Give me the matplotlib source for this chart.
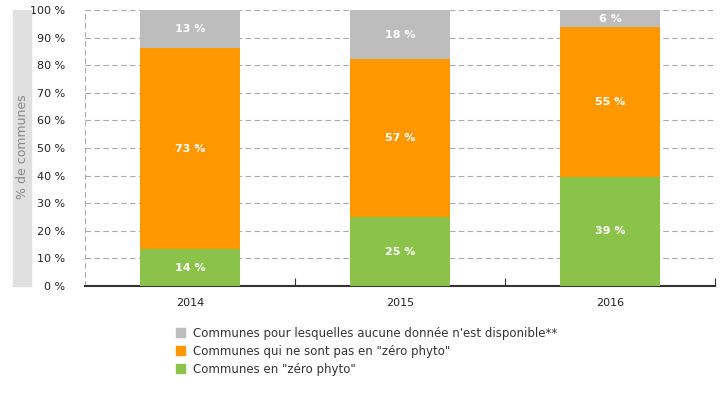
import matplotlib
matplotlib.use("Agg")
import matplotlib.pyplot as plt
from matplotlib.patches import Rectangle

years = ["2014", "2015", "2016"]
zero_phyto = [13.4, 25.0, 39.5]
non_zero = [72.8, 57.2, 54.3]
no_data = [13.8, 17.8, 6.2]
zero_lbl = ["14 %", "25 %", "39 %"]
non_lbl = ["73 %", "57 %", "55 %"]
nod_lbl = ["13 %", "18 %", "6 %"]
yticks = [0, 10, 20, 30, 40, 50, 60, 70, 80, 90, 100]
ytick_labels = [f"{v} %" for v in yticks]
leg_labels = ["Communes pour lesquelles aucune donnée n'est disponible**",
              "Communes qui ne sont pas en \"zéro phyto\"",
              "Communes en \"zéro phyto\""]

c_green = "#8bc34a"
c_orange = "#ff9800"
c_gray = "#bdbdbd"

fig = plt.figure(figsize=(7.25, 4), dpi=100)
ax = fig.add_axes([85/725, 114/400, 630/725, 276/400])

x = list(range(len(years)))
w = 0.48
b1 = ax.bar(x, zero_phyto, w, color=c_green, zorder=3)
b2 = ax.bar(x, non_zero, w, bottom=zero_phyto, color=c_orange, zorder=3)
bot3 = [a + b for a, b in zip(zero_phyto, non_zero)]
b3 = ax.bar(x, no_data, w, bottom=bot3, color=c_gray, zorder=3)

for bars, lbls, bots, vals in [(b1, zero_lbl, [0]*3, zero_phyto),
                               (b2, non_lbl, zero_phyto, non_zero),
                               (b3, nod_lbl, bot3, no_data)]:
    for i, (bar, l) in enumerate(zip(bars, lbls)):
        ax.text(bar.get_x() + bar.get_width()/2, bots[i] + vals[i]/2, l,
                ha="center", va="center", color="white", fontsize=8,
                fontweight="bold", zorder=4)

ax.set_xlim(-0.5, 2.5)
ax.set_ylim(0, 100)
ax.set_yticks(yticks)
ax.set_yticklabels(ytick_labels, fontsize=8, color="#222222")
ax.set_xticks(x)
ax.set_xticklabels(years, fontsize=8, color="#222222")
ax.tick_params(axis="x", length=0, pad=9)
ax.tick_params(axis="y", length=0, pad=14)
ax.set_xticks([0.5, 1.5, 2.5], minor=True)
ax.tick_params(axis="x", which="minor", direction="in", length=6, color="#333333", width=0.8)

ax.yaxis.grid(True, linestyle=(0, (5, 3)), color="#aaaaaa", linewidth=0.8, zorder=0)
ax.axvline(-0.5, linestyle=(0, (5, 3)), color="#aaaaaa", linewidth=0.8, zorder=0)
for s in ["top", "right", "left"]:
    ax.spines[s].set_visible(False)
ax.spines["bottom"].set_color("#333333")
ax.spines["bottom"].set_linewidth(1.5)

# y label with gray background band
fig.patches.append(Rectangle((13/725, 114/400), 18/725, 276/400,
                             transform=fig.transFigure, color="#e0e0e0", zorder=0))
fig.text(22.5/725, 253/400, "% de communes", rotation=90, ha="center", va="center",
         fontsize=9, color="#888888")

# legend
handles = [Rectangle((0, 0), 1, 1, color=c) for c in [c_gray, c_orange, c_green]]
leg = fig.legend(handles, leg_labels, loc="upper left", bbox_to_anchor=(171/725, 1 - 322/400),
                 frameon=False, fontsize=8.5, handlelength=0.8, handleheight=0.8,
                 handletextpad=0.7, labelspacing=0.42, borderaxespad=0)
for t in leg.get_texts():
    t.set_color("#333333")

fig.savefig("out.png", dpi=100)
